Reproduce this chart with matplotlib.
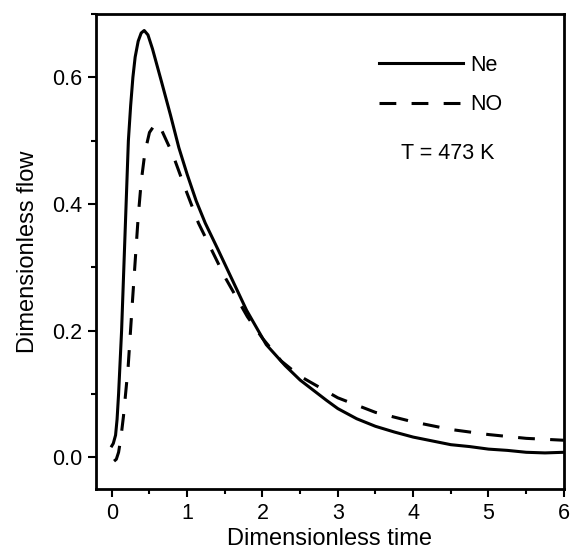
import matplotlib
matplotlib.use('Agg')
import matplotlib.pyplot as plt
from matplotlib.ticker import MultipleLocator, FormatStrFormatter

plt.rcParams['font.family'] = ['Liberation Sans', 'DejaVu Sans']

# values
ne_time = [0.0, 0.02, 0.05, 0.07, 0.09, 0.13, 0.16, 0.19, 0.22, 0.25, 0.28, 0.31, 0.35, 0.39, 0.43, 0.48,
           0.54, 0.66, 0.78, 0.89, 1.0, 1.12, 1.24, 1.41, 1.6, 1.79, 2.05, 2.3, 2.5, 2.85,
           3.0, 3.25, 3.5, 3.75, 4.0, 4.25, 4.5, 4.75, 5.0, 5.25, 5.5, 5.75, 6.0]
ne_flow = [0.018, 0.022, 0.035, 0.06, 0.1, 0.2, 0.3, 0.4, 0.5, 0.555, 0.6, 0.632, 0.657, 0.670, 0.674, 0.667,
           0.645, 0.593, 0.540, 0.489, 0.447, 0.405, 0.370, 0.328, 0.280, 0.232, 0.178, 0.145, 0.122, 0.090,
           0.077, 0.061, 0.049, 0.040, 0.032, 0.026, 0.020, 0.017, 0.013, 0.011, 0.008, 0.007, 0.008]

no_time = [0.03, 0.06, 0.09, 0.12, 0.155, 0.217, 0.275, 0.35, 0.39, 0.44, 0.5, 0.58, 0.66,
           0.81, 0.97, 1.15, 1.5, 1.8, 2.0, 2.25, 2.5, 3.0, 3.5, 4.0, 4.5, 5.0, 5.5, 6.0]
no_flow = [-0.006, -0.003, 0.008, 0.03, 0.065, 0.143, 0.248, 0.379, 0.435, 0.482, 0.513, 0.527, 0.517,
           0.478, 0.426, 0.370, 0.285, 0.222, 0.188, 0.152, 0.128, 0.094, 0.071, 0.056, 0.044,
           0.036, 0.030, 0.027]


def main():
    fig = plt.figure(figsize=(5.73, 5.54), dpi=100)
    ax = fig.add_axes([0.1675, 0.1173, 0.8165, 0.8574])

    ax.plot(ne_time, ne_flow, color='black', lw=2.2, label='Ne')
    no_line, = ax.plot(no_time, no_flow, color='black', lw=2.2, label='NO')
    no_line.set_dashes([5.5, 5])

    ax.set_xlim(-0.21, 6.0)
    ax.set_ylim(-0.05, 0.70)
    ax.xaxis.set_major_locator(MultipleLocator(1))
    ax.xaxis.set_minor_locator(MultipleLocator(0.5))
    ax.yaxis.set_major_locator(MultipleLocator(0.2))
    ax.yaxis.set_minor_locator(MultipleLocator(0.1))
    ax.yaxis.set_major_formatter(FormatStrFormatter('%.1f'))

    ax.tick_params(which='major', direction='out', length=6, width=1.5, labelsize=15.5, pad=4)
    ax.tick_params(which='minor', direction='out', length=3.5, width=1.5)
    for spine in ax.spines.values():
        spine.set_linewidth(2)

    ax.set_xlabel('Dimensionless time', fontsize=17, labelpad=3)
    ax.set_ylabel('Dimensionless flow', fontsize=17, labelpad=9)

    ax.legend(loc='upper left', bbox_to_anchor=((379 - 96) / 468, 0.914), frameon=False,
              fontsize=15.5, handlelength=3.9, labelspacing=0.85, handletextpad=0.35,
              borderpad=0, borderaxespad=0)
    ax.text(0.752, 0.707, 'T = 473 K', transform=ax.transAxes, fontsize=15.5,
            ha='center', va='center')

    fig.savefig('out.png', dpi=100)


if __name__ == "__main__":
    main()
